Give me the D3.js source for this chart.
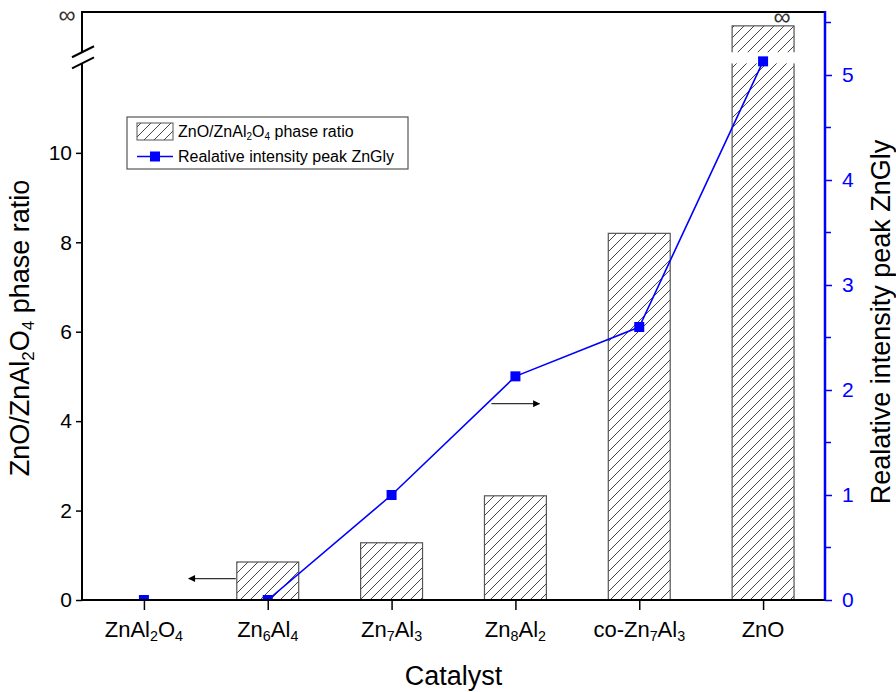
<!DOCTYPE html>
<html>
<head>
<meta charset="utf-8">
<script src="https://cdn.jsdelivr.net/npm/d3@7"></script>
<style>
  body { margin: 0; background: #fff; }
  svg { font-family: "Liberation Sans", Arial, sans-serif; }
</style>
</head>
<body>
<svg id="chart" width="896" height="692"></svg>
<script>
// data
var categories = ["ZnAl2O4", "Zn6Al4", "Zn7Al3", "Zn8Al2", "co-Zn7Al3", "ZnO"];
var phaseRatio = [0, 0.85, 1.28, 2.33, 8.2, Infinity];    // left axis, ZnO is infinite
var intensity = [0, 0, 1.0, 2.13, 2.6, 5.13];             // right axis
var leftTicks = [0, 2, 4, 6, 8, 10];
var rightTicks = [0, 1, 2, 3, 4, 5];
var rightMinor = [0.5, 1.5, 2.5, 3.5, 4.5, 5.5];
var axisBreak = [12.0, 12.25];   // broken part of the left axis
var infTop = 12.84;              // where the infinite bar is drawn up to

var W = 896, H = 692;
var m = {left: 82, right: 71, top: 12, bottom: 92};
var x0 = m.left, x1 = W - m.right, y0 = H - m.bottom, y1 = m.top;

var svg = d3.select("#chart");

var x = d3.scalePoint().domain(categories).range([x0, x1]).padding(0.5);
var barW = x.step() * 0.5;
var yL = d3.scaleLinear().domain([0, 13.15]).range([y0, y1]);
var yR = d3.scaleLinear().domain([0, 5.6]).range([y0, y1]);

// hatch pattern
var defs = svg.append("defs");
var pat = defs.append("pattern")
  .attr("id", "hatch").attr("patternUnits", "userSpaceOnUse")
  .attr("width", 10).attr("height", 10);
pat.append("rect").attr("width", 10).attr("height", 10).attr("fill", "#fff");
pat.append("path").attr("d", "M-1,11 L11,-1 M-6,6 L6,-6 M4,16 L16,4")
  .attr("stroke", "#444").attr("stroke-width", 1);

defs.append("clipPath").attr("id", "plotclip")
  .append("rect").attr("x", x0).attr("y", y1).attr("width", x1 - x0).attr("height", y0 - y1);

defs.append("marker").attr("id", "head")
  .attr("viewBox", "0 0 10 10").attr("refX", 9).attr("refY", 5)
  .attr("markerWidth", 14).attr("markerHeight", 7).attr("markerUnits", "userSpaceOnUse")
  .attr("orient", "auto")
  .append("path").attr("d", "M0,0 L10,5 L0,10 Z").attr("fill", "#000");

function barTop(v) { return isFinite(v) ? yL(v) : yL(infTop); }

// bars
var bars = svg.append("g");
categories.forEach(function(c, i) {
  var v = phaseRatio[i];
  if (v <= 0) return;
  bars.append("rect")
    .attr("x", x(c) - barW / 2).attr("y", barTop(v))
    .attr("width", barW).attr("height", y0 - barTop(v))
    .attr("fill", "url(#hatch)").attr("stroke", "#555").attr("stroke-width", 1.2);
  if (!isFinite(v)) {
    // white gap where the axis is broken
    bars.append("rect")
      .attr("x", x(c) - barW / 2 - 2).attr("y", yL(axisBreak[1]))
      .attr("width", barW + 4).attr("height", yL(axisBreak[0]) - yL(axisBreak[1]))
      .attr("fill", "#fff");
    svg.append("text").attr("x", x(c) + barW / 2 - 12).attr("y", barTop(v) - 1)
      .attr("text-anchor", "middle").attr("font-size", 24).attr("fill", "#333").text("\u221e");
  }
});

// line + markers
var g = svg.append("g").attr("clip-path", "url(#plotclip)");
var line = d3.line().x(function(d, i) { return x(categories[i]); }).y(function(d) { return yR(d); });
g.append("path").datum(intensity).attr("d", line)
  .attr("fill", "none").attr("stroke", "#0000ff").attr("stroke-width", 1.6);
g.selectAll("rect.pt").data(intensity).enter().append("rect")
  .attr("class", "pt")
  .attr("x", function(d, i) { return x(categories[i]) - 5; })
  .attr("y", function(d) { return yR(d) - 5; })
  .attr("width", 10).attr("height", 10).attr("fill", "#0000ff");

// left axis (broken)
var gl = svg.append("g").attr("transform", "translate(" + x0 + ",0)");
gl.call(d3.axisLeft(yL).tickValues(leftTicks).tickSize(6).tickPadding(4).tickFormat(d3.format("d")));
gl.select(".domain").remove();
gl.selectAll(".tick line").attr("stroke", "#000").attr("stroke-width", 1.5);
gl.selectAll(".tick text").attr("font-size", 21).attr("fill", "#000");
gl.append("line").attr("y1", y0 + 1).attr("y2", yL(axisBreak[0])).attr("stroke", "#000").attr("stroke-width", 2);
gl.append("line").attr("y1", yL(axisBreak[1])).attr("y2", y1 - 1).attr("stroke", "#000").attr("stroke-width", 2);
[axisBreak[0], axisBreak[1]].forEach(function(b) {
  gl.append("line").attr("x1", -10).attr("x2", 12)
    .attr("y1", yL(b) + 5).attr("y2", yL(b) - 6)
    .attr("stroke", "#000").attr("stroke-width", 2);
});
svg.append("text").attr("x", 67).attr("y", 23).attr("text-anchor", "middle")
  .attr("font-size", 24).attr("fill", "#333").text("\u221e");

// top frame
svg.append("line").attr("x1", x0 - 1).attr("x2", x1).attr("y1", y1).attr("y2", y1)
  .attr("stroke", "#000").attr("stroke-width", 2);

// right axis
var gr = svg.append("g").attr("transform", "translate(" + x1 + ",0)");
gr.call(d3.axisRight(yR).tickValues(rightTicks).tickSize(7).tickPadding(10).tickFormat(d3.format("d")));
gr.select(".domain").remove();
gr.selectAll(".tick line").attr("stroke", "#0000ff").attr("stroke-width", 1.5);
gr.selectAll(".tick text").attr("font-size", 21).attr("fill", "#0000ff");
gr.selectAll("line.minor").data(rightMinor).enter().append("line")
  .attr("x1", 0).attr("x2", 6).attr("y1", function(d) { return yR(d); }).attr("y2", function(d) { return yR(d); })
  .attr("stroke", "#0000ff").attr("stroke-width", 1.5);
gr.append("line").attr("y1", y0 + 1).attr("y2", y1 - 1).attr("stroke", "#0000ff").attr("stroke-width", 2.5);

// x axis
var gx = svg.append("g").attr("transform", "translate(0," + y0 + ")");
gx.call(d3.axisBottom(x).tickSize(10).tickFormat(""));
gx.select(".domain").remove();
gx.selectAll(".tick line").attr("stroke", "#000").attr("stroke-width", 1.5);
gx.append("line").attr("x1", x0 - 1).attr("x2", x1).attr("stroke", "#000").attr("stroke-width", 2);

function subText(sel, label, fs) {
  // digits are written as subscripts
  label.split(/(\d+)/).forEach(function(part) {
    if (!part) return;
    var t = sel.append("tspan").text(part);
    if (/^\d+$/.test(part)) t.attr("font-size", fs * 0.65).attr("baseline-shift", "-30%");
  });
}
categories.forEach(function(c) {
  var t = gx.append("text").attr("x", x(c)).attr("y", 37)
    .attr("text-anchor", "middle").attr("font-size", 22).attr("fill", "#000");
  subText(t, c, 22);
});

// axis titles
svg.append("text").attr("x", (x0 + x1) / 2).attr("y", 685).attr("text-anchor", "middle")
  .attr("font-size", 27).text("Catalyst");
var lt = svg.append("text").attr("transform", "translate(29,328) rotate(-90)")
  .attr("text-anchor", "middle").attr("font-size", 27);
lt.append("tspan").text("ZnO/ZnAl");
lt.append("tspan").text("2").attr("font-size", 17).attr("baseline-shift", "-30%");
lt.append("tspan").text("O");
lt.append("tspan").text("4").attr("font-size", 17).attr("baseline-shift", "-30%");
lt.append("tspan").text(" phase ratio");
svg.append("text").attr("transform", "translate(890,322) rotate(-90)")
  .attr("text-anchor", "middle").attr("font-size", 27).text("Realative intensity peak ZnGly");

// direction arrows
svg.append("line")
  .attr("x1", x(categories[1]) - barW / 2 - 1).attr("x2", x(categories[1]) - barW / 2 - 48)
  .attr("y1", yL(0.48)).attr("y2", yL(0.48))
  .attr("stroke", "#333").attr("stroke-width", 1.2).attr("marker-end", "url(#head)");
svg.append("line")
  .attr("x1", x(categories[3]) - 24).attr("x2", x(categories[3]) + 24)
  .attr("y1", yR(1.87)).attr("y2", yR(1.87))
  .attr("stroke", "#333").attr("stroke-width", 1.2).attr("marker-end", "url(#head)");

// legend
var lg = svg.append("g").attr("transform", "translate(127,117)");
lg.append("rect").attr("width", 281).attr("height", 52).attr("fill", "#fff")
  .attr("stroke", "#555").attr("stroke-width", 1.2);
lg.append("rect").attr("x", 10).attr("y", 6).attr("width", 36).attr("height", 17)
  .attr("fill", "url(#hatch)").attr("stroke", "#555").attr("stroke-width", 1);
var l1 = lg.append("text").attr("x", 51).attr("y", 20).attr("font-size", 16);
l1.append("tspan").text("ZnO/ZnAl");
l1.append("tspan").text("2").attr("font-size", 10).attr("baseline-shift", "-30%");
l1.append("tspan").text("O");
l1.append("tspan").text("4").attr("font-size", 10).attr("baseline-shift", "-30%");
l1.append("tspan").text(" phase ratio");
lg.append("line").attr("x1", 10).attr("x2", 46).attr("y1", 39.5).attr("y2", 39.5)
  .attr("stroke", "#0000ff").attr("stroke-width", 1.6);
lg.append("rect").attr("x", 23).attr("y", 34.5).attr("width", 10).attr("height", 10).attr("fill", "#0000ff");
lg.append("text").attr("x", 51).attr("y", 45).attr("font-size", 16).text("Realative intensity peak ZnGly");
</script>
</body>
</html>
